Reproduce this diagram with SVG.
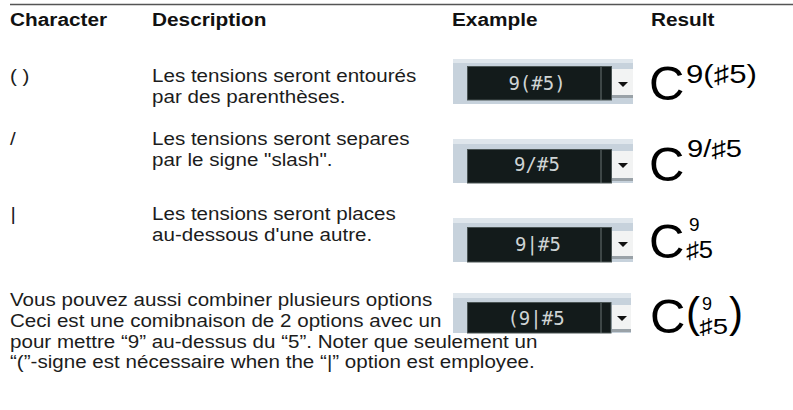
<svg xmlns="http://www.w3.org/2000/svg" width="793" height="410" viewBox="0 0 793 410">
<style>
.t{font-family:"Liberation Sans","DejaVu Sans",Arial,sans-serif;font-size:18.5px;fill:#1c1c1c}
.h{font-family:"Liberation Sans",Arial,sans-serif;font-size:18.7px;font-weight:bold;fill:#111}
.panel{fill:#c7d2dc}
.band{fill:#dfe6ec}
.dark{fill:#131b1b;stroke:#4a5454;stroke-width:1}
.div{stroke:#6b7474;stroke-width:1}
.btn{fill:#f2f3f3}
.shade{fill:#9aa2a8}
.tri{fill:#111}
.wt{font-family:"DejaVu Sans Mono",monospace;font-size:19px;fill:#cfd4d4;text-anchor:middle}
.big{font-family:"Liberation Sans","DejaVu Sans",sans-serif;fill:#000}
</style>
<rect width="793" height="410" fill="#fff"/>
<line x1="10" y1="4.5" x2="793" y2="4.5" stroke="#555" stroke-width="1.5"/>

<g id="header" transform="scale(1.1135 1)">
<text class="h" x="8.98" y="26">Character</text>
<text class="h" x="136.5" y="26">Description</text>
<text class="h" x="405.9" y="26">Example</text>
<text class="h" x="584.6" y="26">Result</text>
</g>

<g id="row-parens" transform="scale(1.1135 1)">
<text class="t" x="8.98" y="82">( )</text>
<text class="t" x="136.5" y="82">Les tensions seront entourés</text>
<text class="t" x="136.5" y="103">par des parenthèses.</text>
</g>
<g id="row-slash" transform="scale(1.1135 1)">
<text class="t" x="8.98" y="145">/</text>
<text class="t" x="136.5" y="145">Les tensions seront separes</text>
<text class="t" x="136.5" y="166">par le signe "slash".</text>
</g>
<g id="row-bar" transform="scale(1.1135 1)">
<text class="t" x="9.4" y="220">|</text>
<text class="t" x="136.5" y="220">Les tensions seront places</text>
<text class="t" x="136.5" y="241">au-dessous d'une autre.</text>
</g>
<g id="combined" transform="scale(1.1135 1)">
<text class="t" x="8.98" y="306.5">Vous pouvez aussi combiner plusieurs options</text>
<text class="t" x="8.98" y="327">Ceci est une comibnaison de 2 options avec un</text>
<text class="t" x="8.98" y="348">pour mettre “9” au-dessus du “5”. Noter que seulement un</text>
<text class="t" x="8.98" y="368.5">“(”-signe est nécessaire when the “|” option est employee.</text>
</g>

<g id="example-1">
<rect class="panel" x="453" y="59" width="180" height="45"/>
<rect class="band" x="453" y="59" width="180" height="4"/>
<rect class="dark" x="467.5" y="66.5" width="144" height="33.5"/>
<line class="div" x1="601" y1="67" x2="601" y2="100"/>
<rect class="btn" x="612" y="69" width="21" height="26"/>
<rect class="shade" x="612" y="95" width="21" height="3"/>
<polygon class="tri" points="618,82 628,82 623,87"/>
<text class="wt" x="537" y="90">9(#5)</text>
</g>
<g id="example-2">
<rect class="panel" x="453" y="139" width="180" height="44"/>
<rect class="band" x="453" y="139" width="180" height="5"/>
<rect class="dark" x="467.5" y="149.5" width="144" height="33.5"/>
<line class="div" x1="601" y1="150" x2="601" y2="183"/>
<rect class="btn" x="612" y="151" width="21" height="27"/>
<rect class="shade" x="612" y="178" width="21" height="3"/>
<polygon class="tri" points="618,163 628,163 623,168"/>
<text class="wt" x="537" y="171">9/#5</text>
</g>
<g id="example-3">
<rect class="panel" x="453" y="218" width="180" height="44"/>
<rect class="band" x="453" y="218" width="180" height="5"/>
<rect class="dark" x="467.5" y="227.5" width="144" height="34.5"/>
<line class="div" x1="601" y1="228" x2="601" y2="262"/>
<rect class="btn" x="612" y="231" width="21" height="25"/>
<rect class="shade" x="612" y="256" width="21" height="3"/>
<polygon class="tri" points="618,242 628,242 623,247"/>
<text class="wt" x="538" y="251">9|#5</text>
</g>
<g id="example-4">
<rect class="panel" x="453" y="293" width="178" height="40"/>
<rect class="band" x="453" y="293" width="178" height="5"/>
<rect class="dark" x="467.5" y="302.5" width="143.5" height="30.5"/>
<line class="div" x1="601" y1="303" x2="601" y2="333"/>
<rect class="btn" x="612" y="305" width="19" height="24"/>
<rect class="shade" x="612" y="329" width="19" height="3"/>
<polygon class="tri" points="617,316 627,316 622,321"/>
<text class="wt" x="536" y="325">(9|#5</text>
</g>

<g id="result-1">
<text class="big" x="649" y="100" font-size="49">C</text>
<text class="big" x="686" y="83" font-size="25" textLength="71" lengthAdjust="spacingAndGlyphs">9(♯5)</text>
</g>
<g id="result-2">
<text class="big" x="649" y="181" font-size="49">C</text>
<text class="big" x="687" y="157" font-size="23" textLength="55" lengthAdjust="spacingAndGlyphs">9/♯5</text>
</g>
<g id="result-3">
<text class="big" x="649" y="258" font-size="49">C</text>
<text class="big" x="689" y="231" font-size="19">9</text>
<text class="big" x="686" y="258" font-size="23" textLength="27" lengthAdjust="spacingAndGlyphs">♯5</text>
</g>
<g id="result-4">
<text class="big" x="650" y="333" font-size="49">C</text>
<text class="big" x="686" y="327" font-size="42">(</text>
<text class="big" x="702" y="310" font-size="18">9</text>
<text class="big" x="699" y="334" font-size="22" textLength="29" lengthAdjust="spacingAndGlyphs">♯5</text>
<text class="big" x="729" y="327" font-size="42">)</text>
</g>
</svg>
